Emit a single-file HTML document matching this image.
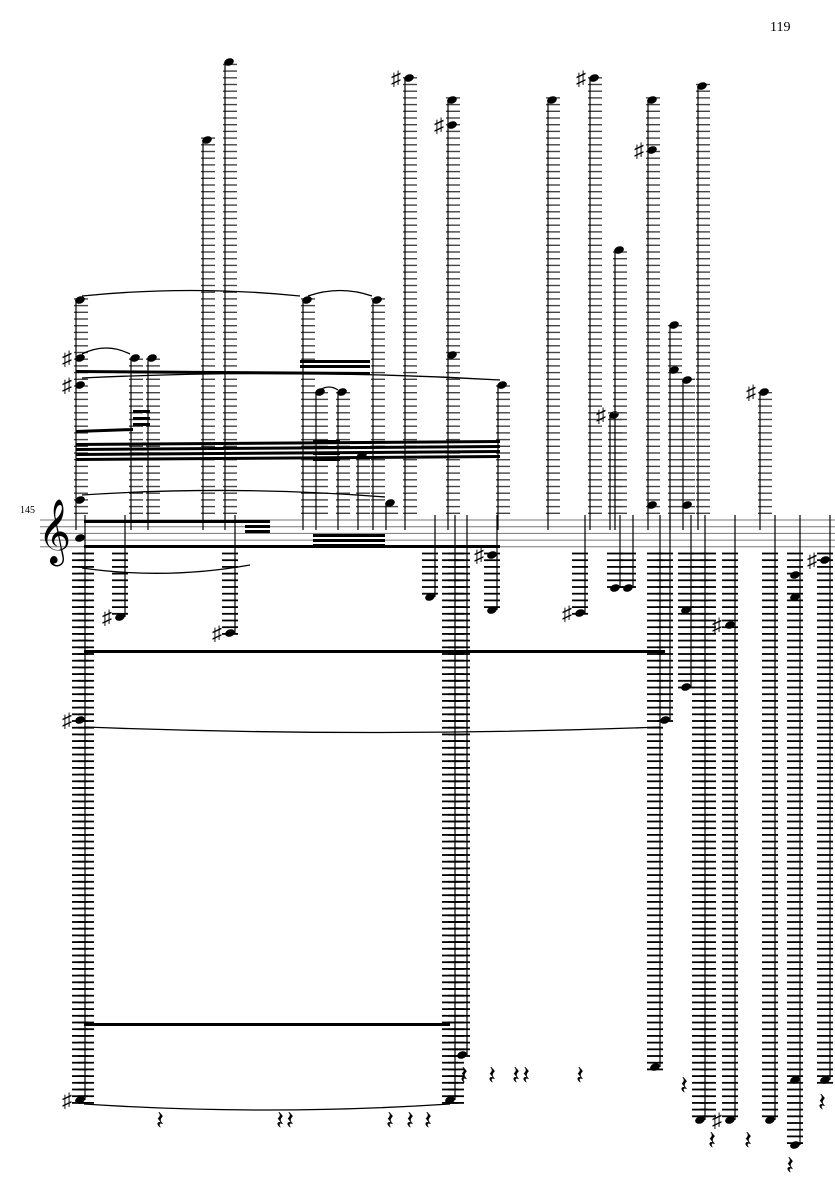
<!DOCTYPE html>
<html><head><meta charset="utf-8"><style>
body{margin:0;background:#fff;width:835px;height:1181px;overflow:hidden}
svg{display:block}
text{font-family:"Liberation Serif","DejaVu Serif",serif}
</style></head><body>
<svg id="s" width="835" height="1181" viewBox="0 0 835 1181" xmlns="http://www.w3.org/2000/svg">
<text x="770" y="31" font-size="14">119</text>
<text x="20" y="513" font-size="10">145</text>
<g stroke="#777" stroke-width="1">
<line x1="40" y1="520" x2="835" y2="520"/><line x1="40" y1="526.7" x2="835" y2="526.7"/>
<line x1="40" y1="533.4" x2="835" y2="533.4"/><line x1="40" y1="540.1" x2="835" y2="540.1"/>
<line x1="40" y1="546.8" x2="835" y2="546.8"/></g>
<text x="38" y="550" font-size="56" font-family="DejaVu Sans">𝄞</text>
<g id="g" fill="#000" stroke="#000"></g>
</svg>
<script>
var g=document.getElementById('g'),h='';
function L(x1,y1,x2,y2,w,c){h+='<line x1="'+x1+'" y1="'+y1+'" x2="'+x2+'" y2="'+y2+'" stroke-width="'+(w||1)+'"'+(c?' stroke="'+c+'"':'')+'/>';}
function up(x,top){for(var y=513.3;y>=top-3;y-=6.7)L(x-7,y,x+7,y,1.4,'#444');}
function dn(x,bot){for(var y=553.5;y<=bot+3;y+=6.7)L(x-8,y,x+8,y,1.8);}
function N(x,y,sh){h+='<ellipse cx="'+x+'" cy="'+y+'" rx="5" ry="3.6" transform="rotate(-20 '+x+' '+y+')" stroke="none"/>';if(sh)h+='<text x="'+(x-18)+'" y="'+(y+7)+'" font-size="20" stroke="none">♯</text>';}
function S(x,y1,y2){L(x,y1,x,y2,1.2);}
var A=[[78,[300,358,385,500],[358,385]],[133,[358]],[150,[358]],[205,[140]],[227,[62]],[305,[300]],[318,[392]],[340,[392]],[375,[300]],[360,[455]],[388,[503]],[407,[78],[78]],[450,[100,125,355],[125]],[500,[385]],[550,[100]],[592,[78],[78]],[612,[415],[415]],[617,[250]],[650,[100,150,505],[150]],[672,[325,370]],[685,[380,505]],[700,[86]],[762,[392],[392]]];
A.forEach(function(c){var top=Math.min.apply(null,c[1]);up(c[0]+3,top);S(c[0]-2,top,530);c[1].forEach(function(y){N(c[0]+2,y,c[2]&&c[2].indexOf(y)>=0);});});
var B=[[80,[538,720,1100],[720,1100],1100],[120,[617],[617]],[230,[633],[633]],[430,[597]],[450,[1100],[],1100],[462,[1055]],[492,[555,610],[555]],[580,[613],[613]],[615,[588]],[628,[588]],[655,[1067]],[665,[720],[],720],[686,[610,687]],[700,[1120]],[730,[625,1120],[625,1120]],[770,[1120]],[795,[575,597,1080,1145]],[825,[560,1080],[560]]];
B.forEach(function(c){var bot=Math.max.apply(null,c[1]);dn(c[0],bot);S(c[0]+5,515,bot);c[1].forEach(function(y){N(c[0],y,c[2]&&c[2].indexOf(y)>=0);});});
dn(86,1100);dn(456,1100);dn(708,1120);
function BM(x1,y1,x2,y2){h+='<polygon points="'+x1+','+y1+' '+x2+','+y2+' '+x2+','+(y2+3)+' '+x1+','+(y1+3)+'" stroke="none"/>';}
BM(76,370,370,372);BM(300,360,370,360);BM(300,365,370,365);
for(var i=0;i<4;i++)BM(76,443+i*5,500,440+i*5);
BM(76,430,133,428);BM(133,410,150,410);BM(133,417,150,417);BM(133,423,150,423);
BM(313,440,340,440);BM(313,446,340,446);BM(313,452,340,452);BM(313,458,340,458);
BM(84,520,270,520);BM(84,545,500,545);BM(245,525,270,525);BM(245,530,270,530);
BM(313,534,385,534);BM(313,539,385,539);BM(313,544,385,544);
BM(84,650,665,650);BM(84,1023,450,1023);
function SL(x1,y1,x2,y2,c){h+='<path d="M'+x1+' '+y1+' Q'+((x1+x2)/2)+' '+c+' '+x2+' '+y2+'" fill="none" stroke-width="1.3"/>';}
SL(82,296,300,296,285);SL(308,296,372,296,285);SL(82,354,130,354,342);SL(82,378,500,380,368);SL(82,495,385,497,485);SL(82,568,250,565,580);SL(84,727,660,727,738);SL(84,1104,450,1104,1116);SL(320,390,338,390,384);
var R=[[156,1120],[276,1120],[286,1120],[386,1120],[406,1120],[424,1120],[460,1075],[488,1075],[512,1075],[522,1075],[576,1075],[680,1085],[708,1140],[744,1140],[786,1165],[818,1102]];
R.forEach(function(r){h+='<text x="'+r[0]+'" y="'+(r[1]+9)+'" font-size="26" font-family="DejaVu Sans" stroke="none">𝄽</text>';});
g.innerHTML=h;
</script>
</body></html>
